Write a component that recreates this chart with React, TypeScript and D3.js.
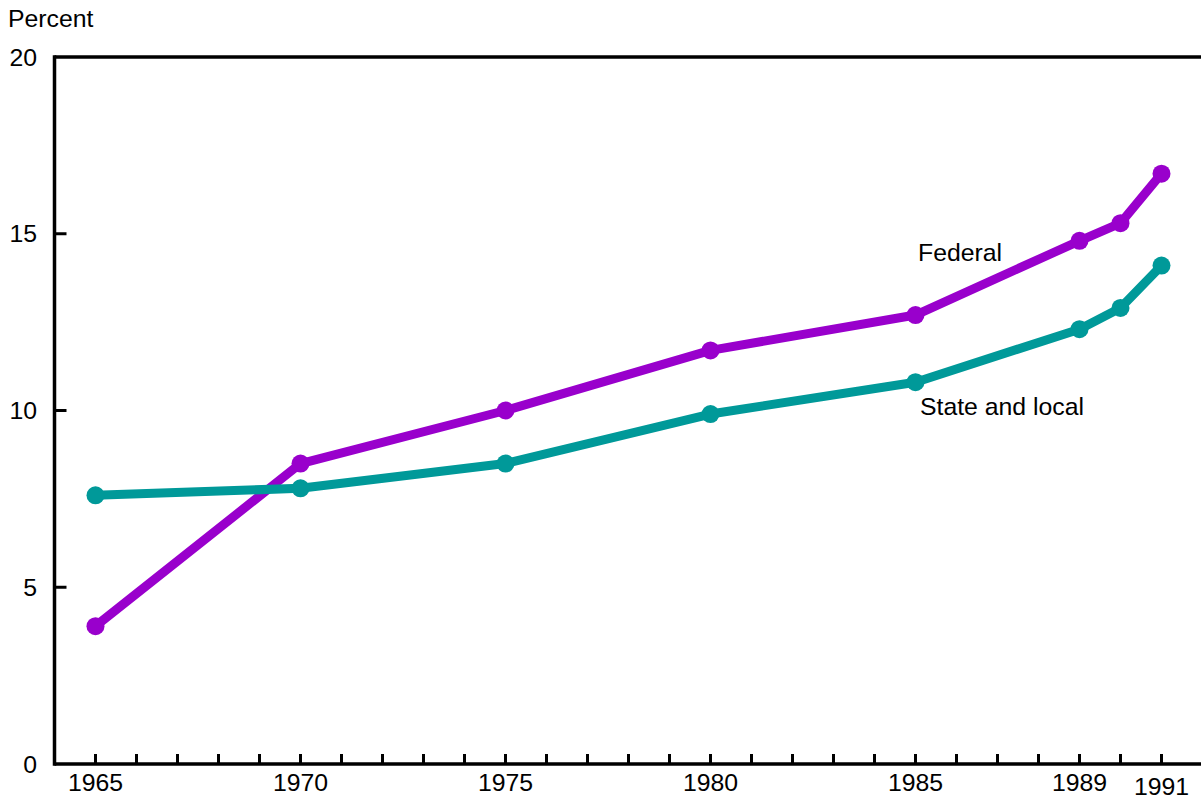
import React from "react";
import * as d3 from "d3";

const years = [1965, 1970, 1975, 1980, 1985, 1989, 1990, 1991];
const federal = [3.9, 8.5, 10.0, 11.7, 12.7, 14.8, 15.3, 16.7];
const stateLocal = [7.6, 7.8, 8.5, 9.9, 10.8, 12.3, 12.9, 14.1];
const xTickLabels = [1965, 1970, 1975, 1980, 1985, 1989, 1991];
const yTicks = [0, 5, 10, 15, 20];
const seriesNames = ["Federal", "State and local"];

const W = 1201;
const H = 802;
const left = 54.5;
const top = 57;
const bottom = 764;

export default function App() {
  const x = d3.scaleLinear().domain([1964, 1992]).range([left, left + 28 * 41]);
  const y = d3.scaleLinear().domain([0, 20]).range([bottom, top]);
  const line = d3
    .line<[number, number]>()
    .x((d) => x(d[0]))
    .y((d) => y(d[1]));
  const series = [
    { name: seriesNames[0], values: federal, color: "#9900CC", lx: 918, ly: 261 },
    { name: seriesNames[1], values: stateLocal, color: "#009999", lx: 920, ly: 415 },
  ];
  const minorTicks = d3.range(1965, 1992);
  const font = "'Liberation Sans', Arial, sans-serif";
  const fs = 24.8;
  return (
    <svg
      width={W}
      height={H}
      style={{ position: "absolute", left: 0, top: 0 }}
      fontFamily={font}
    >
      <rect width={W} height={H} fill="#fff" />
      <text x={8} y={27} fontSize={fs} fill="#000">
        Percent
      </text>
      {yTicks.map((t) => (
        <text key={t} x={37} y={y(t)} dy="0.35em" fontSize={fs} textAnchor="end" fill="#000">
          {t}
        </text>
      ))}
      {yTicks
        .filter((t) => t > 0 && t < 20)
        .map((t) => (
          <line key={t} x1={left} x2={left + 12} y1={y(t)} y2={y(t)} stroke="#000" strokeWidth={3} />
        ))}
      {minorTicks.map((t) => (
        <line key={t} x1={x(t)} x2={x(t)} y1={bottom} y2={bottom - 10} stroke="#000" strokeWidth={3} />
      ))}
      {xTickLabels.map((t) => (
        <text
          key={t}
          x={x(t)}
          y={t === 1991 ? 795 : 791}
          fontSize={fs}
          textAnchor="middle"
          fill="#000"
        >
          {t}
        </text>
      ))}
      <line x1={left} x2={W} y1={top} y2={top} stroke="#000" strokeWidth={3.5} />
      <line x1={left} x2={W} y1={bottom} y2={bottom} stroke="#000" strokeWidth={3.5} />
      <line x1={left} x2={left} y1={top - 1.75} y2={bottom + 1.75} stroke="#000" strokeWidth={3.5} />
      {series.map((s) => {
        const pts: [number, number][] = years.map((yr, i) => [yr, s.values[i]]);
        return (
          <g key={s.name}>
            <path d={line(pts) || ""} fill="none" stroke={s.color} strokeWidth={9} strokeLinejoin="round" />
            {pts.map((p, i) => (
              <circle key={i} cx={x(p[0])} cy={y(p[1])} r={9} fill={s.color} />
            ))}
            <text x={s.lx} y={s.ly} fontSize={fs} fill="#000">
              {s.name}
            </text>
          </g>
        );
      })}
    </svg>
  );
}
